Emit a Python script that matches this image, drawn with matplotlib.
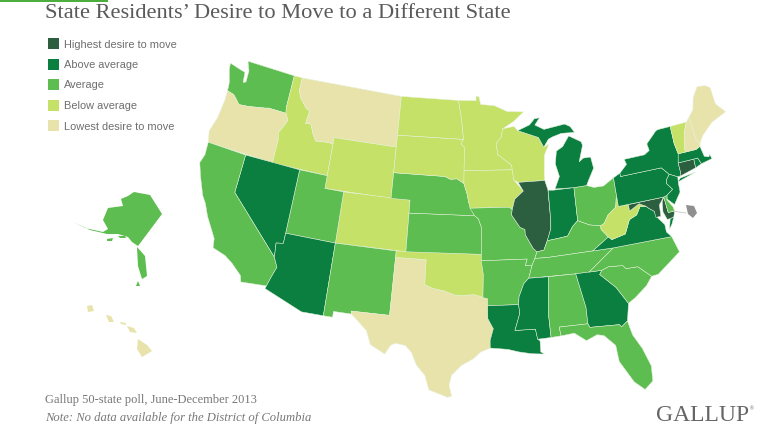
import numpy as np
import matplotlib
matplotlib.use("Agg")
import matplotlib.pyplot as plt
from matplotlib.patches import Polygon, Rectangle

TITLE = "State Residents\u2019 Desire to Move to a Different State"
LEGEND_LABELS = ["Highest desire to move", "Above average", "Average", "Below average", "Lowest desire to move"]
COLORS = ["#2b5f40", "#0a7f40", "#5dbd50", "#c6e168", "#e8e3aa"]
HIGHEST = ["IL", "CT", "MD"]
ABOVE = ["NV", "AZ", "MI", "IN", "NY", "PA", "NJ", "MA", "RI", "VA", "LA", "MS", "GA"]
AVERAGE = ["WA", "CA", "UT", "NM", "NE", "KS", "MO", "AR", "OH", "KY", "TN", "NC", "SC", "AL", "FL", "DE", "AK"]
BELOW = ["ID", "ND", "SD", "MN", "WI", "IA", "WY", "CO", "OK", "WV", "VT"]
LOWEST = ["OR", "MT", "TX", "NH", "ME", "HI"]
GROUPS = [HIGHEST, ABOVE, AVERAGE, BELOW, LOWEST]

# State outlines, lon/lat
WA = [[(-124.7,48.38),(-123.2,48.15),(-122.75,48.1),(-122.6,47.3),(-122.3,47.4),(-122.35,48.3),(-122.8,49.0),(-117.03,49.0),(-117.04,46.4),(-116.92,45.99),(-118.98,46.0),(-119.3,45.93),(-121.2,45.65),(-122.3,45.55),(-122.8,45.9),(-123.2,46.15),(-124.0,46.27),(-124.1,46.9),(-124.6,47.9)]]
OR = [[(-124.0,46.27),(-123.2,46.15),(-122.8,45.9),(-122.3,45.55),(-121.2,45.65),(-119.3,45.93),(-118.98,46.0),(-116.92,45.99),(-116.5,45.5),(-116.85,44.9),(-117.2,44.4),(-117.03,43.8),(-117.03,42.0),(-124.2,42.0),(-124.5,42.85),(-124.1,44.0),(-123.95,45.5)]]
ID = [[(-117.03,49),(-116.05,49),(-116.05,48.0),(-115.7,47.45),(-114.7,46.7),(-114.35,46.65),(-114.5,45.6),(-113.9,45.65),(-113.45,44.95),(-113.0,44.45),(-111.5,44.55),(-111.05,44.48),(-111.05,42.0),(-117.03,42),(-117.03,43.8),(-117.2,44.4),(-116.85,44.9),(-116.5,45.5),(-116.92,45.99),(-117.04,46.4)]]
MT = [[(-116.05,49),(-104.05,49),(-104.05,45),(-111.05,45),(-111.05,44.48),(-111.5,44.55),(-113.0,44.45),(-113.45,44.95),(-113.9,45.65),(-114.5,45.6),(-114.35,46.65),(-114.7,46.7),(-115.7,47.45),(-116.05,48.0)]]
WY = [[(-111.05,45),(-104.05,45),(-104.05,41),(-111.05,41)]]
CO = [[(-109.05,41),(-102.05,41),(-102.05,37),(-109.05,37)]]
UT = [[(-114.05,42),(-111.05,42),(-111.05,41),(-109.05,41),(-109.05,37),(-114.05,37)]]
NV = [[(-120,42),(-114.05,42),(-114.05,36.2),(-114.75,36.1),(-114.6,35.0),(-120,39)]]
CA = [[(-124.2,42),(-120,42),(-120,39),(-114.6,35.0),(-114.15,34.3),(-114.5,33.4),(-114.72,32.72),(-117.12,32.53),(-117.3,33.0),(-118.4,33.75),(-119.2,34.15),(-120.5,34.45),(-120.65,35.15),(-121.9,36.6),(-122.5,37.5),(-123.0,38.0),(-123.8,39.3),(-124.35,40.3),(-124.1,41.0)]]
AZ = [[(-114.05,37),(-109.05,37),(-109.05,31.33),(-111.07,31.33),(-114.8,32.5),(-114.72,32.72),(-114.5,33.4),(-114.15,34.3),(-114.6,35.0),(-114.75,36.1),(-114.05,36.2)]]
NM = [[(-109.05,37),(-103,37),(-103.05,32),(-106.6,32),(-106.53,31.78),(-108.2,31.78),(-108.2,31.33),(-109.05,31.33)]]
TX = [[(-103,36.5),(-100,36.5),(-100,34.56),(-99.2,34.3),(-98.1,34.13),(-97.2,33.85),(-96.5,33.8),(-95.3,33.88),(-94.04,33.55),(-94.04,33.0),(-94.04,32.0),(-93.55,31.2),(-93.85,30.3),(-93.85,29.7),(-94.7,29.4),(-95.3,28.9),(-96.4,28.35),(-97.2,27.6),(-97.4,26.8),(-97.15,25.95),(-97.5,25.85),(-99.1,26.4),(-99.5,27.5),(-100.3,28.3),(-100.8,29.25),(-101.4,29.77),(-102.3,29.88),(-102.7,29.7),(-103.15,28.98),(-104.5,29.6),(-105.0,30.65),(-106.53,31.78),(-106.6,32),(-103.05,32)]]
OK = [[(-103,37),(-94.62,37),(-94.43,35.4),(-94.48,33.64),(-94.04,33.55),(-95.3,33.88),(-96.5,33.8),(-97.2,33.85),(-98.1,34.13),(-99.2,34.3),(-100,34.56),(-100,36.5),(-103,36.5)]]
KS = [[(-102.05,40),(-95.3,40),(-94.9,39.75),(-94.6,39.1),(-94.62,37),(-102.05,37)]]
NE = [[(-104.05,43),(-98.5,43),(-97.9,42.8),(-97.2,42.85),(-96.45,42.5),(-96.1,41.7),(-95.9,41),(-95.3,40),(-102.05,40),(-102.05,41),(-104.05,41)]]
SD = [[(-104.05,45.94),(-96.56,45.94),(-96.85,45.6),(-96.45,45.3),(-96.45,43.5),(-96.45,42.5),(-97.2,42.85),(-97.9,42.8),(-98.5,43),(-104.05,43)]]
ND = [[(-104.05,49),(-97.23,49),(-96.85,47.6),(-96.56,45.94),(-104.05,45.94)]]
MN = [[(-97.23,49),(-95.15,49),(-95.15,49.38),(-94.8,49.3),(-94.6,48.7),(-93.0,48.6),(-91.5,48.1),(-89.6,48.0),(-90.8,47.3),(-92.1,46.75),(-92.3,46.1),(-92.9,45.6),(-92.75,44.75),(-91.25,43.85),(-91.22,43.5),(-96.45,43.5),(-96.45,45.3),(-96.85,45.6),(-96.56,45.94),(-96.85,47.6)]]
IA = [[(-96.45,43.5),(-91.22,43.5),(-91.1,42.7),(-90.15,41.8),(-91.1,41.2),(-91.4,40.4),(-91.7,40.6),(-95.77,40.58),(-95.9,41),(-96.1,41.7),(-96.45,42.5)]]
MO = [[(-95.77,40.58),(-91.7,40.6),(-91.4,40.4),(-91.5,40.0),(-90.7,39.0),(-90.2,38.8),(-90.2,38.4),(-89.5,37.3),(-89.15,37.0),(-89.4,36.5),(-89.7,36.0),(-90.37,36.0),(-90.15,36.5),(-94.62,36.5),(-94.62,37),(-94.6,39.1),(-94.9,39.75),(-95.3,40)]]
AR = [[(-94.62,36.5),(-90.15,36.5),(-90.37,36),(-89.7,36),(-90.1,35.0),(-90.6,34.6),(-91.1,33.6),(-91.17,33.0),(-94.04,33.0),(-94.04,33.55),(-94.48,33.64),(-94.43,35.4)]]
LA = [[(-94.04,33.0),(-91.17,33),(-91.1,32.3),(-91.6,31.0),(-89.75,31),(-89.6,30.2),(-89.4,30.05),(-89.4,29.8),(-89.4,29.2),(-89.1,29.0),(-90.2,29.1),(-91.3,29.3),(-92.3,29.55),(-93.85,29.7),(-93.85,30.3),(-93.55,31.2),(-94.04,32)]]
WI = [[(-92.1,46.75),(-90.8,46.9),(-90.4,46.55),(-88.1,45.9),(-87.6,45.1),(-87.0,45.3),(-87.6,44.5),(-87.8,43.0),(-87.8,42.5),(-90.65,42.5),(-91.1,42.7),(-91.22,43.5),(-91.25,43.85),(-92.75,44.75),(-92.9,45.6),(-92.3,46.1)]]
IL = [[(-90.65,42.5),(-87.8,42.5),(-87.55,41.75),(-87.53,39.35),(-87.6,38.7),(-88.05,37.8),(-88.45,37.1),(-89.15,37.0),(-89.5,37.3),(-90.2,38.4),(-90.2,38.8),(-90.7,39.0),(-91.5,40.0),(-91.4,40.4),(-91.1,41.2),(-90.15,41.8)]]
IN = [[(-87.53,41.72),(-87.0,41.68),(-84.8,41.7),(-84.82,39.1),(-85.4,38.7),(-86.0,38.0),(-87.0,37.9),(-88.05,37.8),(-87.6,38.7),(-87.53,39.35)]]
OH = [[(-84.8,41.7),(-83.45,41.73),(-82.7,41.5),(-81.7,41.5),(-80.52,42.0),(-80.52,40.64),(-80.8,39.7),(-81.7,39.2),(-82.2,38.6),(-82.6,38.45),(-83.7,38.65),(-84.82,39.1)]]
KY = [[(-89.4,36.5),(-88.07,36.5),(-83.7,36.6),(-82.0,37.5),(-82.6,38.17),(-82.6,38.45),(-83.7,38.65),(-84.82,39.1),(-85.4,38.7),(-86,38),(-87,37.9),(-88.05,37.8),(-88.45,37.1),(-89.15,37.0)]]
TN = [[(-90.1,35.0),(-85.6,35),(-84.32,35),(-81.68,36.59),(-83.7,36.6),(-88.07,36.5),(-89.4,36.5),(-89.7,36)]]
MS = [[(-91.17,33),(-91.1,33.6),(-90.6,34.6),(-90.1,35.0),(-88.2,35),(-88.47,31.9),(-88.4,30.25),(-89.6,30.2),(-89.75,31),(-91.6,31),(-91.1,32.3)]]
AL = [[(-88.2,35),(-85.6,35),(-85.0,32.3),(-85.0,31),(-87.6,31),(-87.5,30.3),(-88.4,30.25),(-88.47,31.9)]]
GA = [[(-85.6,35),(-83.1,35),(-83.35,34.7),(-82.0,33.5),(-81.1,32.1),(-81.45,30.75),(-82.05,30.37),(-82.2,30.57),(-84.86,30.7),(-85.0,31),(-85.0,32.3)]]
FL = [[(-87.5,30.3),(-87.6,31),(-85,31),(-84.86,30.7),(-82.2,30.57),(-82.05,30.37),(-81.45,30.75),(-81.2,29.6),(-80.55,28.4),(-80.05,26.9),(-80.15,25.7),(-80.9,25.15),(-81.7,25.9),(-82.7,27.7),(-82.8,29.0),(-83.7,29.9),(-84.3,30.05),(-85.3,29.7),(-86.3,30.4)]]
SC = [[(-83.1,35),(-82.4,35.2),(-81.05,35.1),(-80.8,34.82),(-79.67,34.8),(-78.55,33.85),(-79.2,33.2),(-80.4,32.45),(-81.1,32.1),(-82.0,33.5),(-83.35,34.7)]]
NC = [[(-84.32,35),(-83.1,35),(-82.4,35.2),(-81.05,35.1),(-80.8,34.82),(-79.67,34.8),(-78.55,33.85),(-77.9,33.9),(-76.5,34.7),(-75.5,35.25),(-75.9,36.55),(-81.68,36.59)]]
VA = [[(-83.7,36.6),(-81.68,36.59),(-75.9,36.55),(-76.3,37.0),(-76.3,37.6),(-76.9,38.3),(-77.05,38.8),(-77.5,39.1),(-77.75,39.32),(-78.35,39.4),(-78.85,38.8),(-79.65,38.55),(-80.3,37.5),(-81.7,37.25),(-82.0,37.5)],
      [(-75.95,37.15),(-75.65,37.95),(-75.25,38.03),(-75.6,37.5)]]
WV = [[(-82.6,38.45),(-82.6,38.17),(-82.0,37.5),(-81.7,37.25),(-80.3,37.5),(-79.65,38.55),(-78.85,38.8),(-78.35,39.4),(-77.75,39.32),(-78.4,39.62),(-79.48,39.2),(-79.48,39.72),(-80.52,39.72),(-80.52,40.64),(-80.8,39.7),(-81.7,39.2),(-82.2,38.6)]]
MD = [[(-79.48,39.72),(-75.79,39.72),(-76.05,39.4),(-76.2,38.6),(-75.95,37.95),(-75.65,37.95),(-75.25,38.03),(-75.05,38.45),(-75.7,38.46),(-75.79,39.72),(-76.4,39.2),(-76.5,38.3),(-77.0,38.3),(-77.05,38.8),(-77.5,39.1),(-77.75,39.32),(-78.4,39.62),(-79.48,39.2)]]
DE = [[(-75.79,39.72),(-75.42,39.8),(-75.55,39.45),(-75.1,38.8),(-75.05,38.45),(-75.7,38.46)]]
PA = [[(-80.52,42.0),(-79.76,42.27),(-79.76,42),(-75.35,42),(-74.7,41.36),(-75.1,41.0),(-75.2,40.7),(-74.72,40.15),(-75.42,39.8),(-75.79,39.72),(-80.52,39.72)]]
NY = [[(-79.76,42.27),(-78.9,42.85),(-79.05,43.27),(-76.8,43.3),(-76.2,43.55),(-76.3,44.1),(-75.0,44.95),(-74.7,45),(-73.35,45),(-73.4,43.6),(-73.25,42.75),(-73.5,42.05),(-73.5,41.3),(-73.65,41.0),(-73.9,41.0),(-74.7,41.36),(-75.35,42),(-79.76,42)],
      [(-74.0,40.6),(-72.0,41.0),(-72.6,40.95),(-73.7,40.85)]]
NJ = [[(-74.7,41.36),(-73.9,41.0),(-74.0,40.5),(-74.05,39.8),(-74.9,38.95),(-75.5,39.5),(-75.42,39.8),(-74.72,40.15),(-75.2,40.7),(-75.1,41)]]
CT = [[(-73.5,42.05),(-71.8,42.02),(-71.85,41.32),(-73.65,41.0),(-73.5,41.3)]]
RI = [[(-71.8,42.02),(-71.38,42.02),(-71.15,41.5),(-71.85,41.32)]]
MA = [[(-73.5,42.05),(-73.25,42.75),(-71.3,42.7),(-70.8,42.85),(-70.65,42.0),(-70.2,41.85),(-70.05,42.05),(-69.95,41.65),(-71.15,41.5),(-71.38,42.02),(-71.8,42.02)]]
VT = [[(-73.35,45),(-71.5,45),(-72.05,44.2),(-72.45,43.0),(-72.45,42.73),(-73.25,42.75),(-73.4,43.6)]]
NH = [[(-71.5,45),(-71.08,45.3),(-70.98,43.4),(-70.7,43.07),(-70.8,42.85),(-71.3,42.7),(-72.45,42.73),(-72.45,43),(-72.05,44.2)]]
ME = [[(-71.08,45.3),(-70.4,45.8),(-70.0,46.7),(-69.2,47.45),(-68.3,47.35),(-67.8,47.07),(-67.8,45.7),(-67.0,44.85),(-68.8,44.4),(-70.2,43.6),(-70.7,43.07),(-70.98,43.4)]]
MI = [[(-90.4,46.55),(-89.0,46.95),(-88.4,47.4),(-87.8,47.45),(-88.4,46.9),(-87.4,46.5),(-85.0,46.75),(-84.4,46.5),(-84.0,46.0),(-85.5,46.05),(-86.5,45.85),(-87.0,45.7),(-87.6,45.1),(-88.1,45.9)],
      [(-86.8,41.76),(-84.8,41.7),(-83.45,41.73),(-83.1,42.2),(-82.45,43.0),(-82.6,43.9),(-83.4,43.9),(-83.9,43.65),(-83.3,44.9),(-83.4,45.2),(-84.7,45.78),(-85.5,45.0),(-86.25,44.7),(-86.5,43.7),(-86.2,42.7)]]
LOWER48 = dict(WA=WA,OR=OR,ID=ID,MT=MT,WY=WY,CO=CO,UT=UT,NV=NV,CA=CA,AZ=AZ,NM=NM,TX=TX,OK=OK,KS=KS,NE=NE,SD=SD,ND=ND,MN=MN,IA=IA,MO=MO,AR=AR,LA=LA,WI=WI,IL=IL,IN=IN,OH=OH,KY=KY,TN=TN,MS=MS,AL=AL,GA=GA,FL=FL,SC=SC,NC=NC,VA=VA,WV=WV,MD=MD,DE=DE,PA=PA,NY=NY,NJ=NJ,CT=CT,RI=RI,MA=MA,VT=VT,NH=NH,ME=ME,MI=MI)

# Inset outlines, in figure pixels
AK = [[(134,193),(150,196),(162,215),(138,247),(132,243),(128,238),(118,235),(107,235),(90,231),(73,223),(85,229),(103,233),(108,230),(103,221),(108,209),(123,207),(121,200),(128,197)],
      [(137,248),(145,257),(147,277),(142,280),(138,267)],[(136,287),(138,282),(140,287)],
      [(107,240),(113,239),(112,242),(107,242)],[(118,237),(125,237),(126,239),(120,239)]]
HI = [[(138,340),(147,346),(152,352),(142,358),(137,350)],[(106,316),(111,317),(114,323),(109,323)],
      [(87,307),(92,306),(94,312),(88,313)],[(120,323),(126,324),(126,326),(121,325)],[(127,327),(134,329),(137,334),(130,333)]]
DC = [(686,206),(694,207),(697,214),(693,219),(688,215)]
DC_LEADER = [(672,212),(686,214)]

# Control points lon/lat -> pixel, used to place the projection
CTRL = [
 (-124.7,48.38,232,63),(-117.03,49,293,75),(-116.05,49,302,77),(-124.2,42,208,145),(-120,42,245,157),(-114.05,42,298,171),
 (-111.05,42,325,177),(-111.05,41,325,190),(-109.05,41,342,195),(-111.05,45,333,140),(-114.05,37,286,236),(-109.05,37,335,244),
 (-109.05,31.33,325,316),(-114.72,32.72,268,289),(-111.07,31.33,302,311),(-120.5,34.45,215,249),(-103,37,395,252),(-103.05,32,380,315),
 (-100,36.5,425,260),(-94.62,37,482,254),(-100,34.56,427,284),(-97.3,25.9,452,397),(-93.85,29.7,490,348),(-94.04,33,488,308),
 (-91.17,33,519,307),(-89.1,29,542,355),(-88.4,30.25,550,338),(-88.2,35,550,279),(-85.6,35,577,276),(-80.9,25.15,642,396),
 (-81.45,30.75,625,327),(-78.55,33.85,672,262),(-75.5,35.25,675,250),(-75.9,36.55,672,242),(-102.05,37,407,250),(-102.05,40,410,213),
 (-104.05,41,392,198),(-104.05,43,394,174),(-104.05,45.94,398,137),(-104.05,49,402,97),(-97.23,49,460,101),(-95.15,49.38,477,96),
 (-89.6,48,522,112),(-92.1,46.75,504,130),(-90.65,42.5,522,184),(-87.8,42.5,546,183),(-89.15,37,538,250),(-84.8,41.7,574,189),
 (-80.52,42,614,181),(-84.7,45.78,568,138),(-90.4,46.55,520,128),(-87.8,47.45,538,118),(-82.6,43.9,593,168),(-76.2,43.55,628,162),
 (-73.35,45,670,128),(-69.2,47.45,705,85),(-67,44.85,726,111),(-69.95,41.65,712,160),(-73.65,41,680,175),(-74.9,38.95,670,200)]

def albers(lon, lat, lon0=-96, lat0=37.5, p1=29.5, p2=45.5):
    lon, lat = np.radians(lon), np.radians(lat)
    lon0, lat0, p1, p2 = map(np.radians, (lon0, lat0, p1, p2))
    n = (np.sin(p1) + np.sin(p2)) / 2
    c = np.cos(p1) ** 2 + 2 * n * np.sin(p1)
    rho = np.sqrt(c - 2 * n * np.sin(lat)) / n
    rho0 = np.sqrt(c - 2 * n * np.sin(lat0)) / n
    th = n * (lon - lon0)
    return rho * np.sin(th), rho0 - rho * np.cos(th)

def basis(x, y):
    return np.c_[np.ones(len(x)), x, y, x * x, x * y, y * y]

ctrl = np.array(CTRL, float)
X, Y = albers(ctrl[:, 0], ctrl[:, 1])
A = basis(X, Y)
cx = np.linalg.lstsq(A, ctrl[:, 2], rcond=None)[0]
cy = np.linalg.lstsq(A, ctrl[:, 3], rcond=None)[0]
def project(ring):
    r = np.array(ring, float)
    x, y = albers(r[:, 0], r[:, 1])
    B = basis(x, y)
    return np.c_[B @ cx, B @ cy]

fig = plt.figure(figsize=(7.58, 4.27), dpi=100)
ax = fig.add_axes([0, 0, 1, 1])
ax.set_xlim(0, 758); ax.set_ylim(427, 0); ax.axis("off")

ax.add_patch(Rectangle((0, 0), 108, 2.5, fc="#4cae3c", ec="none"))
color_of = {s: COLORS[i] for i, g in enumerate(GROUPS) for s in g}
for st, rings in LOWER48.items():
    for ring in rings:
        ax.add_patch(Polygon(project(ring), closed=True, fc=color_of[st], ec="#e6f2dc", lw=0.35, joinstyle="round"))
for st, rings in (("AK", AK), ("HI", HI)):
    for ring in rings:
        ax.add_patch(Polygon(ring, closed=True, fc=color_of[st], ec="none"))
ax.add_patch(Polygon(DC, closed=True, fc="#8f8f8f", ec="none"))
ax.plot(*zip(*DC_LEADER), color="#c8c8c8", lw=0.6)

ax.text(45, 18.5, TITLE, family="Liberation Serif", fontsize=16.15, color="#5a5a5a", va="baseline", ha="left")
for i, (lab, col) in enumerate(zip(LEGEND_LABELS, COLORS)):
    yc = 44.5 + i * 20.5
    ax.add_patch(Rectangle((47.5, yc - 5.5), 11, 11, fc=col, ec="none"))
    ax.text(64, yc, lab, family="Liberation Sans", fontsize=7.9, color="#6e6e6e", va="center", ha="left")
ax.text(45, 400, "Gallup 50-state poll, June-December 2013", family="Liberation Serif", fontsize=9.0, color="#777777", va="center")
ax.text(45, 418, "Note: No data available for the District of Columbia", family="Liberation Serif", style="italic", fontsize=9.1, color="#777777", va="center")
ax.text(656, 416, "GALLUP", family="Liberation Serif", fontsize=17, color="#666666", va="center")
ax.text(750, 409, "\u00ae", family="Liberation Sans", fontsize=3.5, color="#666666", va="center")
fig.savefig("out.png", dpi=100)
